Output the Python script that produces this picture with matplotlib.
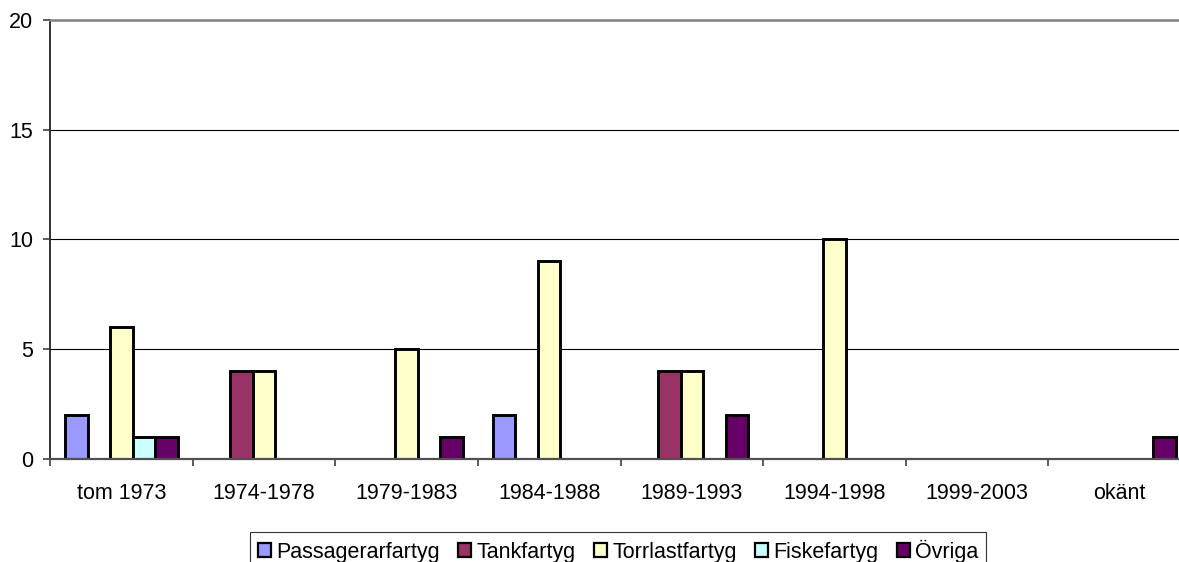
import matplotlib
matplotlib.use("Agg")
import matplotlib.pyplot as plt
import numpy as np

plt.rcParams['font.family'] = ['Liberation Sans', 'DejaVu Sans']

# data
categories = ['tom 1973', '1974-1978', '1979-1983', '1984-1988',
              '1989-1993', '1994-1998', '1999-2003', 'okänt']
series_names = ['Passagerarfartyg', 'Tankfartyg', 'Torrlastfartyg',
                'Fiskefartyg', 'Övriga']
passagerar = [2, 0, 0, 2, 0, 0, 0, 0]
tank = [0, 4, 0, 0, 4, 0, 0, 0]
torrlast = [6, 4, 5, 9, 4, 10, 0, 0]
fiske = [1, 0, 0, 0, 0, 0, 0, 0]
ovriga = [1, 0, 1, 0, 2, 0, 0, 1]
colors = ['#9999FF', '#993366', '#FFFFCC', '#CCFFFF', '#660066']

values = [passagerar, tank, torrlast, fiske, ovriga]

W, H = 1179, 562
fig = plt.figure(figsize=(W / 100, H / 100), dpi=100)
# plot area runs past the right edge of the image like the original
x0, x1 = 50, 1191
y0, y1 = 459, 20
ax = fig.add_axes([x0 / W, 1 - y0 / H, (x1 - x0) / W, (y0 - y1) / H])

x = np.arange(len(categories))
bw = 0.158
for i, (name, vals, c) in enumerate(zip(series_names, values, colors)):
    ax.bar(x + (i - 2) * bw, vals, width=bw, color=c, edgecolor='black',
           linewidth=2.1, label=name, zorder=3)

ax.set_xlim(-0.5, len(categories) - 0.5)
ax.set_ylim(0, 20)
ax.set_yticks([0, 5, 10, 15, 20])
ax.set_xticks(x)
ax.set_xticklabels(categories)
ax.set_xticks(np.arange(len(categories)) - 0.5, minor=True)
ax.tick_params(axis='x', which='major', length=0, pad=17, labelsize=15.5)
ax.tick_params(axis='x', which='minor', length=5, width=1.2, color='#404040')
ax.tick_params(axis='y', length=5, width=1.2, color='#404040', labelsize=15.5, pad=7)

for v in [5, 10, 15]:
    ax.axhline(v, color='black', linewidth=0.8, zorder=1)

ax.spines['top'].set_color('#808080')
ax.spines['top'].set_linewidth(1.8)
ax.spines['right'].set_visible(False)
ax.spines['left'].set_color('#303030')
ax.spines['left'].set_linewidth(1.4)
ax.spines['bottom'].set_color('#505050')
ax.spines['bottom'].set_linewidth(1.6)
ax.spines['bottom'].set_zorder(4)

leg = fig.legend(loc='upper center', bbox_to_anchor=(618 / W, 1 - 532 / H), ncol=5,
                 frameon=True, fancybox=False, fontsize=15.5, handlelength=0.6,
                 handleheight=0.6, handletextpad=0.25, columnspacing=0.85,
                 borderpad=0.35, borderaxespad=0)
leg.get_frame().set_edgecolor('black')
leg.get_frame().set_linewidth(0.8)
for h in leg.legend_handles:
    h.set_linewidth(1.6)

fig.savefig('out.png', dpi=100)
